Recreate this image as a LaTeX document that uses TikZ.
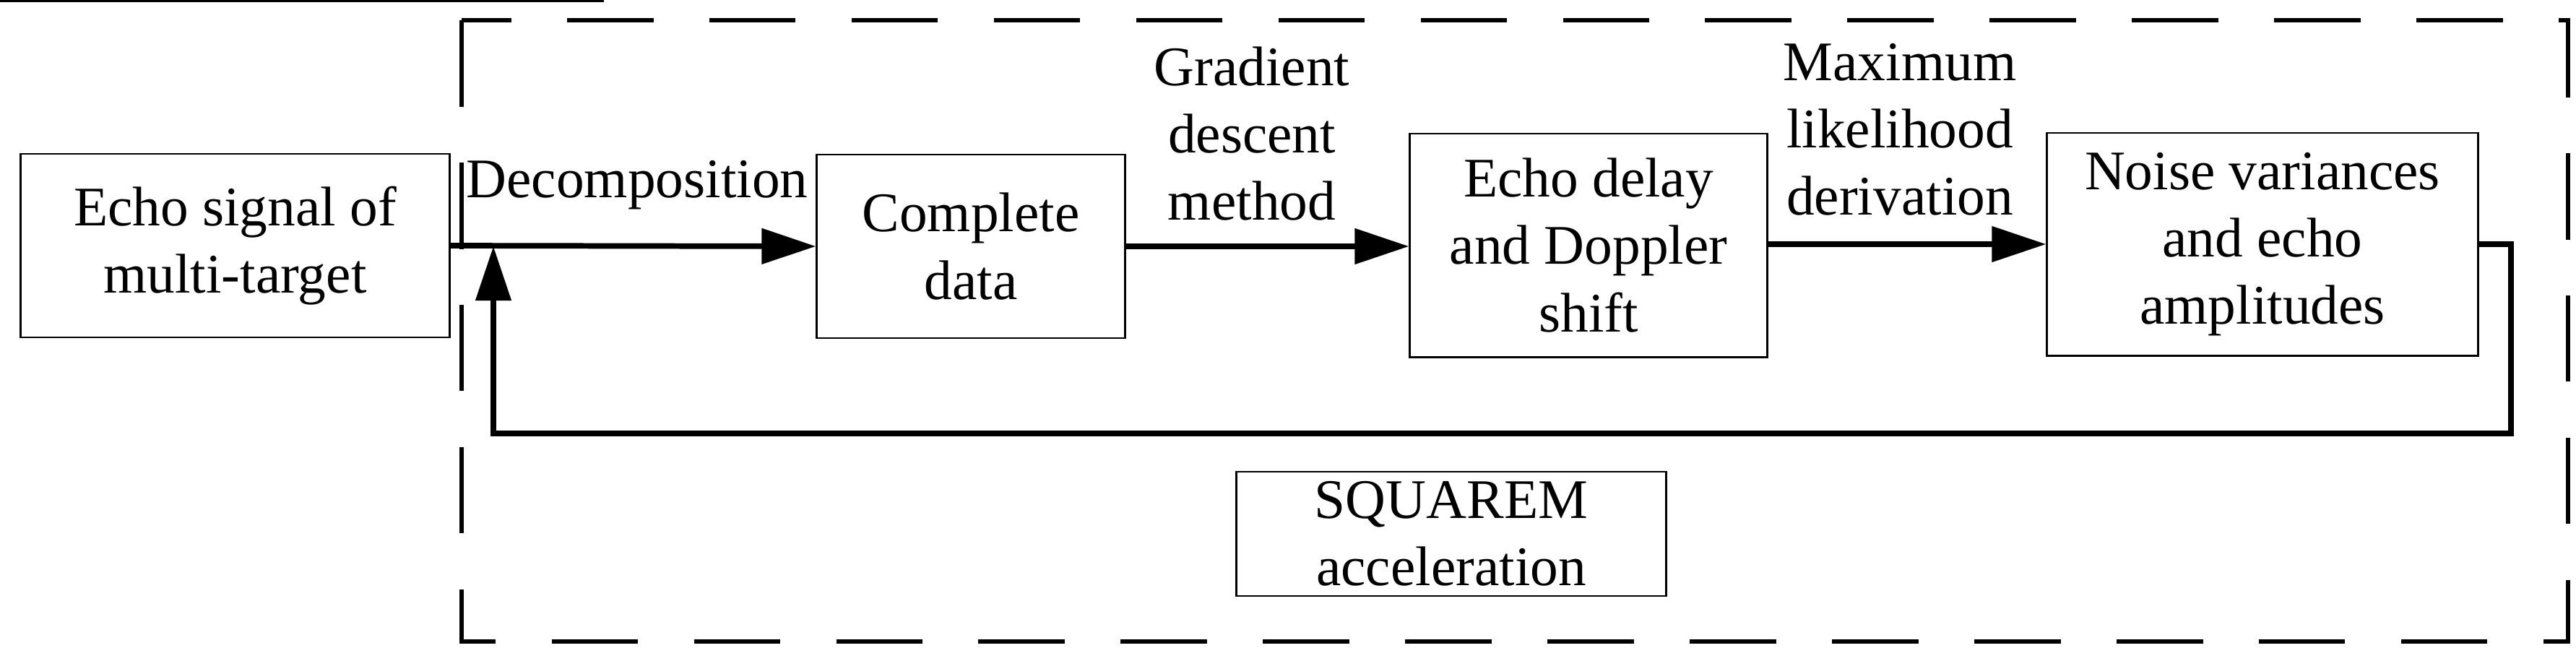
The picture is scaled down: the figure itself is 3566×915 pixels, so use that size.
\documentclass[tikz,border=0pt]{standalone}
\usepackage{fontspec}
\setmainfont{Liberation Serif}
\usetikzlibrary{arrows.meta}
\begin{document}
\begin{tikzpicture}[x=0.01cm,y=-0.01cm,
  box/.style={draw,line width=0.8pt,align=center,inner sep=0pt,font=\fontsize{22}{26.5}\selectfont},
  lbl/.style={align=center,inner sep=0pt,font=\fontsize{22}{26.5}\selectfont},
  flow/.style={line width=2.2pt,-{Triangle[length=7.5mm,width=4.8mm]}},
  line/.style={line width=2.2pt}]
\useasboundingbox (0,0) rectangle (3566,915);
\draw[line width=1.7pt,dash pattern=on 34pt off 22pt] (639,28) rectangle (3555,888);
\node[box,minimum width=593\pgflinewidth] at (0,0) {}; 
\node[box,minimum width=5.93cm,minimum height=2.54cm] (echo) at (325.5,340) {Echo signal of\\multi-target};
\node[box,minimum width=4.26cm,minimum height=2.54cm] (comp) at (1344,341) {Complete\\data};
\node[box,minimum width=4.94cm,minimum height=3.09cm] (delay) at (2199,339.5) {Echo delay\\and Doppler\\shift};
\node[box,minimum width=5.96cm,minimum height=3.08cm] (noise) at (3132,338) {Noise variances\\and echo\\amplitudes};
\node[box,minimum width=5.94cm,minimum height=1.72cm] (sq) at (2009,739) {SQUAREM\\acceleration};
\node[lbl] (l1) at (882,256) {Decomposition};
\node[lbl] (l2) at (1733,185) {Gradient\\descent\\method};
\node[lbl] (l3) at (2630,179) {Maximum\\likelihood\\derivation};
\coordinate (c1) at (3476,338);
\coordinate (c2) at (3476,600);
\coordinate (c3) at (683,600);
\coordinate (c4) at (683,341);
\draw[flow] (echo.east) -- (comp.west);
\draw[flow] (comp.east) -- (delay.west |- comp.east);
\draw[flow] (delay.east |- noise.west) -- (noise.west);
\draw[line,line join=miter] (noise.east) -- (c1) -- (c2) -- (c3) -- (683,400);
\draw[flow] (683,420) -- (c4);
\end{tikzpicture}
\end{document}
